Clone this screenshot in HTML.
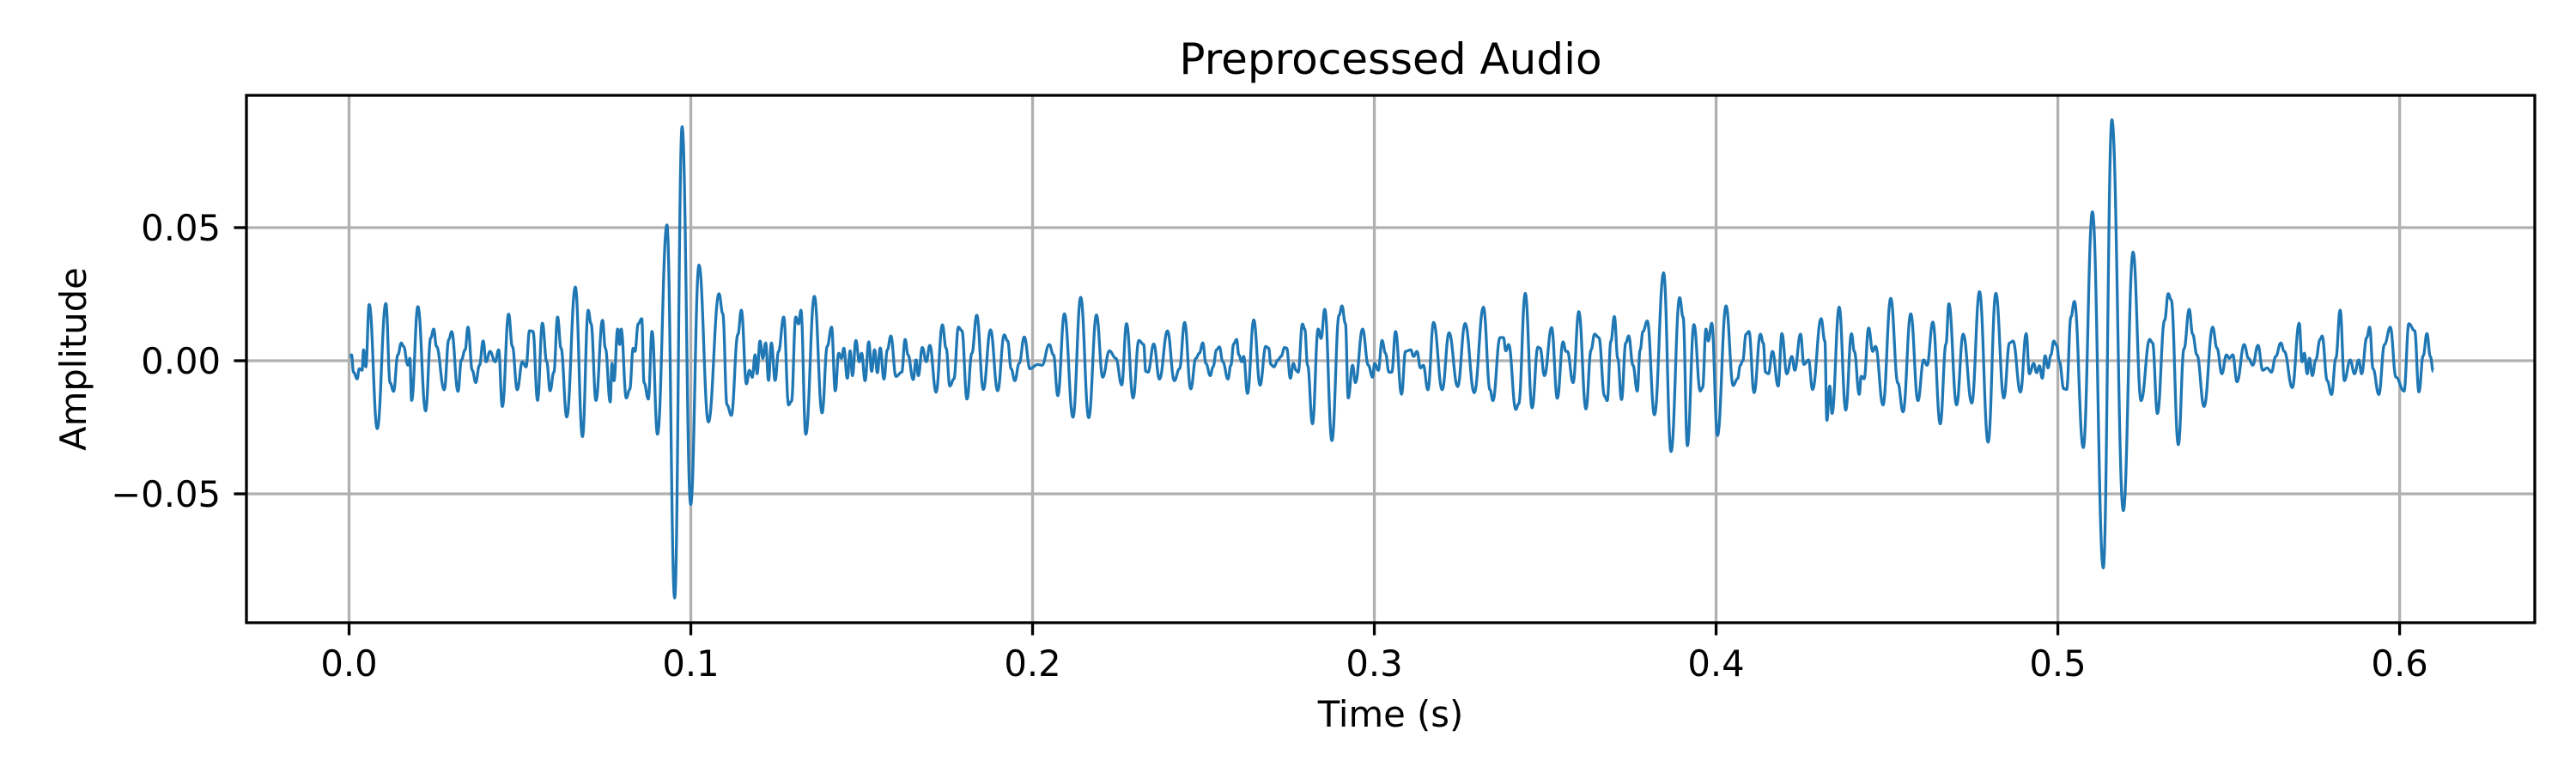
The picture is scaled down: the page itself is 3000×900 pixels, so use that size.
<!DOCTYPE html>
<html><head><meta charset="utf-8"><title>Preprocessed Audio</title>
<style>html,body{margin:0;padding:0;background:#fff;}svg{display:block;font-family:"DejaVu Sans","Liberation Sans",sans-serif;}</style>
</head><body>
<svg id="chart" xmlns="http://www.w3.org/2000/svg" width="3000" height="900" viewBox="0 0 3000 900">
<rect x="0" y="0" width="3000" height="900" fill="#ffffff"/>
<defs><clipPath id="plotclip"><rect x="287" y="111" width="2665" height="614"/></clipPath></defs>
<g id="grid"></g>
<g id="series" clip-path="url(#plotclip)"></g>
<rect x="287" y="111" width="2665" height="614" fill="none" stroke="#000" stroke-width="3.3"/>
<g id="ticks"></g>
<text x="1619.5" y="86" text-anchor="middle" font-size="50" fill="#000">Preprocessed Audio</text>
<text x="1619.5" y="846" text-anchor="middle" font-size="41.7" fill="#000">Time (s)</text>
<text x="0" y="0" transform="translate(100,418) rotate(-90)" text-anchor="middle" font-size="41.7" fill="#000">Amplitude</text>
</svg>
<script>
// time of each local extremum, milliseconds
const timesMs = [0.21,0.71,1.30,2.39,2.97,3.81,4.23,4.90,5.90,8.25,10.76,12.02,13.02,14.28,15.28,15.95,17.21,17.80,18.30,20.14,22.40,23.91,24.75,25.58,27.85,29.19,30.03,31.87,32.87,33.96,34.80,36.06,37.06,38.15,39.24,40.08,41.25,42.76,43.76,44.85,46.69,47.78,49.20,50.71,51.80,52.81,53.81,55.15,56.57,57.83,58.83,59.92,61.01,62.02,63.69,66.21,68.30,69.98,70.81,72.24,74.16,75.00,76.42,76.93,77.51,78.60,79.19,79.61,81.12,82.12,83.13,83.63,84.63,85.64,86.31,87.56,88.65,90.24,93.01,95.27,97.45,99.96,102.39,105.15,108.25,109.34,110.60,111.85,113.78,114.78,116.29,117.13,117.97,118.80,119.39,120.23,121.07,
121.90,122.74,123.58,124.67,125.67,127.18,128.61,129.45,130.70,131.54,132.21,133.64,136.15,138.41,139.92,141.18,142.27,143.27,144.11,144.78,145.79,146.62,147.29,148.30,149.31,149.98,150.98,152.07,152.91,153.75,154.59,155.42,156.51,157.52,158.52,160.03,161.71,162.71,163.55,165.06,165.90,166.57,167.74,168.91,169.92,171.76,173.61,174.70,175.79,176.96,178.30,179.31,180.81,182.24,183.66,185.59,187.69,189.78,191.71,192.71,193.72,194.81,196.07,197.57,199.25,201.51,202.77,204.87,206.12,207.38,209.31,211.82,214.08,216.43,218.69,220.53,222.46,224.39,226.07,227.49,229.42,231.09,232.52,233.11,233.78,235.45,237.13,239.47,241.48,242.99,244.49,
246.28,247.79,248.79,249.80,250.72,251.98,252.82,253.82,254.66,255.67,257.17,258.01,258.85,259.69,260.36,261.20,261.78,262.87,264.72,266.56,268.24,269.07,269.74,270.58,271.84,272.68,273.77,274.35,275.44,276.28,277.12,277.71,278.96,279.63,280.47,281.90,283.57,284.41,285.50,287.59,289.69,290.53,291.53,292.37,293.63,294.46,296.56,298.24,299.49,300.08,301.17,302.26,303.26,304.27,305.11,306.20,307.96,309.13,310.64,311.48,312.48,313.49,314.33,315.67,317.34,319.86,321.87,324.38,326.56,329.24,331.92,333.85,334.69,336.78,337.79,338.46,339.30,341.39,342.23,344.16,346.17,347.85,348.51,349.77,351.87,353.54,355.22,356.06,356.48,358.15,359.83,361.92,363.43,364.44,365.70,367.37,
368.13,369.22,370.23,371.23,372.32,373.58,374.42,375.68,376.93,377.77,378.61,379.87,381.96,384.64,386.82,389.33,390.34,391.60,393.52,395.37,396.04,397.04,397.71,398.72,400.40,402.91,405.01,406.26,407.10,407.77,408.78,409.61,411.12,412.97,413.80,414.47,415.31,416.49,418.16,419.25,420.68,422.18,423.02,424.70,425.70,427.04,428.22,430.73,431.82,432.41,433.25,433.92,436.01,437.94,439.61,440.45,441.88,442.46,443.30,444.64,445.82,446.65,448.83,451.10,453.19,454.70,456.96,459.06,460.73,461.74,463.41,465.59,467.27,468.11,470.37,472.30,474.81,477.07,479.59,481.85,484.20,485.87,486.88,489.06,490.74,
491.67,492.93,493.77,494.61,495.44,496.28,497.12,497.96,498.80,499.63,500.47,501.73,502.57,503.82,504.83,507.43,510.11,513.29,515.81,519.16,522.01,524.36,526.87,527.71,529.13,531.23,532.31,533.15,535.25,536.92,538.43,539.44,540.69,542.79,545.30,546.56,547.99,549.33,550.16,551.17,552.43,554.52,555.78,557.04,558.54,559.97,561.23,562.48,563.74,565.25,566.25,568.60,570.61,571.45,572.12,572.96,573.63,574.47,575.47,576.73,577.32,578.83,580.08,581.34,582.60,583.85,585.53,586.79,588.04,588.88,590.39,591.23,592.23,593.91,595.59,597.26,598.94,601.29,602.71,604.39,605.65,606.90,607.99,608.99,609.83];
// amplitude of each extremum, thousandths
const ampMilli = [1.6,2.2,-4.3,-6.8,-3.0,-3.6,4.1,-2.3,21.1,-25.5,21.5,-8.3,-11.5,2.2,6.7,5.4,-1.7,0.9,-14.9,20.3,-18.8,8.6,11.9,5.4,-10.9,8.0,10.9,-11.5,0.3,4.1,12.6,-3.6,-8.2,-1.7,7.4,-0.4,3.5,-0.4,4.1,-17.2,17.5,5.4,-10.9,-0.4,-2.3,11.3,11.0,-14.9,14.1,-0.4,-11.3,-4.3,16.4,4.7,-21.1,27.7,-28.5,19.0,13.9,-14.9,15.2,4.7,-15.5,-1.0,-7.5,11.9,6.1,11.9,-14.0,-10.8,4.7,3.5,13.9,15.8,-8.2,-14.4,11.0,-27.6,51.0,-89.1,87.9,-54.0,35.9,-23.0,25.2,17.7,-16.6,-20.5,9.9,19.0,-8.7,-3.6,-6.2,2.2,-4.9,7.4,0.9,
6.7,-7.4,6.7,-7.4,3.5,16.4,-16.6,-15.2,16.4,13.8,19.0,-27.6,24.2,-19.6,5.4,12.6,-11.3,2.8,0.9,4.7,-6.6,3.7,-5.6,7.6,-0.4,2.8,-7.5,7.1,-4.0,4.1,-4.5,4.8,-6.9,4.1,9.3,-5.9,-4.3,8.0,2.2,-7.1,0.3,-5.6,5.0,-0.4,5.8,-11.8,13.5,4.7,-9.5,-6.9,12.6,11.3,-14.4,2.8,17.1,-10.8,11.6,-11.3,9.7,7.4,-3.0,-7.5,-1.0,8.9,-3.0,-1.4,-1.7,6.1,2.2,-13.1,17.6,-21.2,23.8,-21.4,17.2,-6.2,3.7,0.9,-9.1,13.9,-14.0,7.6,6.1,-4.0,-4.3,6.3,-6.9,11.2,-7.5,-3.0,14.4,
-10.6,0.9,2.8,6.7,-1.0,-5.6,-2.3,4.1,5.2,-0.4,-6.9,-1.7,6.3,8.0,2.2,-0.4,1.6,-12.3,15.3,-9.2,5.4,4.7,-1.4,-2.3,0.3,1.6,5.0,4.7,-6.6,-1.0,-3.6,-4.3,13.8,11.9,-1.7,-23.7,11.9,8.4,19.3,-30.0,17.1,20.6,13.9,-14.0,-1.7,-8.2,11.9,-1.7,-6.2,-1.0,-3.6,7.6,2.8,-4.3,-4.3,11.0,-12.6,3.5,4.1,1.6,3.5,-2.7,-1.7,-10.9,14.4,-10.9,10.5,-9.7,14.0,-12.0,20.1,-10.9,-15.0,8.7,8.7,3.7,6.1,-18.3,-16.2,25.3,-17.7,5.1,4.7,-5.6,12.4,-14.1,7.1,3.5,3.5,-8.2,18.4,-18.1,4.1,10.0,8.7,-13.3,
-15.0,7.3,16.6,0.9,-14.6,6.7,9.3,-1.7,-11.4,4.1,11.0,14.9,-20.3,33.0,-34.1,23.7,16.4,-31.9,13.6,-11.4,-10.1,11.9,7.4,14.1,-28.1,20.6,-9.3,-6.8,-1.7,-0.1,10.0,11.0,-12.0,10.0,6.7,-4.3,-4.9,3.5,-9.5,10.2,-4.9,1.6,-3.6,10.0,-1.4,0.3,-10.8,15.8,7.4,-22.4,-9.5,-19.8,20.1,-18.5,10.1,3.5,-12.6,-5.8,-6.8,12.3,3.5,5.4,-16.6,23.4,-8.4,-19.2,17.6,-15.0,0.3,-1.7,14.5,-23.7,6.3,21.4,-16.6,10.0,-15.9,25.9,-30.6,25.3,-14.0,6.7,7.4,-11.8,10.2,
-4.9,-1.0,-4.5,-1.9,-6.6,1.9,-2.7,2.2,7.4,5.8,-0.4,-10.5,-10.8,16.4,22.3,-32.6,55.9,-77.8,90.5,-56.3,40.8,-15.0,8.0,6.7,-19.8,15.2,25.2,22.9,-31.5,4.5,19.3,10.0,2.2,-17.2,12.6,4.7,-4.9,2.2,0.9,2.2,-7.9,6.1,0.9,-1.7,5.8,-3.6,-2.7,-4.3,1.6,6.7,3.5,-10.1,14.1,-0.4,2.8,-4.9,0.9,-5.6,0.3,8.0,9.3,-7.5,-12.7,0.9,19.0,-7.5,0.3,-4.9,0.3,-4.9,8.7,12.6,-3.0,-12.7,6.1,12.6,-6.2,-11.4,13.9,11.3,-11.7,1.9,10.2,1.6,-4.0];
const xTicks = [0.0,0.1,0.2,0.3,0.4,0.5,0.6];
const xTickLabels = ["0.0","0.1","0.2","0.3","0.4","0.5","0.6"];
const yTicks = [-0.05,0.0,0.05];
const yTickLabels = ["\u22120.05","0.00","0.05"];

const NS = "http://www.w3.org/2000/svg";
const AX = {left:287, right:2952, top:111, bottom:725};
const XMIN = -0.03003, XMAX = 0.63955, YMIN = -0.09839, YMAX = 0.09968;
function xScale(t){ return AX.left + (t - XMIN) / (XMAX - XMIN) * (AX.right - AX.left); }
function yScale(v){ return AX.bottom - (v - YMIN) / (YMAX - YMIN) * (AX.bottom - AX.top); }

const grid = document.getElementById('grid');
const ticks = document.getElementById('ticks');
xTicks.forEach((t, i) => {
  const x = xScale(t);
  const gl = document.createElementNS(NS, 'line');
  gl.setAttribute('x1', x); gl.setAttribute('x2', x); gl.setAttribute('y1', AX.top); gl.setAttribute('y2', AX.bottom);
  gl.setAttribute('stroke', '#b0b0b0'); gl.setAttribute('stroke-width', '3.3');
  
  
  grid.appendChild(gl);
  const tk = document.createElementNS(NS, 'line');
  tk.setAttribute('x1', x); tk.setAttribute('x2', x); tk.setAttribute('y1', AX.bottom); tk.setAttribute('y2', AX.bottom + 14.6);
  tk.setAttribute('stroke', '#000'); tk.setAttribute('stroke-width', '3.3');
  
  
  ticks.appendChild(tk);
  const tx = document.createElementNS(NS, 'text');
  tx.setAttribute('x', x); tx.setAttribute('y', 787); tx.setAttribute('text-anchor', 'middle');
  tx.setAttribute('font-size', '41.7'); tx.setAttribute('fill', '#000');
  tx.textContent = xTickLabels[i];
  
  
  ticks.appendChild(tx);
});
yTicks.forEach((v, i) => {
  const y = yScale(v);
  const gl = document.createElementNS(NS, 'line');
  gl.setAttribute('x1', AX.left); gl.setAttribute('x2', AX.right); gl.setAttribute('y1', y); gl.setAttribute('y2', y);
  gl.setAttribute('stroke', '#b0b0b0'); gl.setAttribute('stroke-width', '3.3');
  
  
  grid.appendChild(gl);
  const tk = document.createElementNS(NS, 'line');
  tk.setAttribute('x1', AX.left - 14.6); tk.setAttribute('x2', AX.left); tk.setAttribute('y1', y); tk.setAttribute('y2', y);
  tk.setAttribute('stroke', '#000'); tk.setAttribute('stroke-width', '3.3');
  
  
  ticks.appendChild(tk);
  const tx = document.createElementNS(NS, 'text');
  tx.setAttribute('x', 257); tx.setAttribute('y', y + 15); tx.setAttribute('text-anchor', 'end');
  tx.setAttribute('font-size', '41.7'); tx.setAttribute('fill', '#000');
  tx.textContent = yTickLabels[i];
  
  
  ticks.appendChild(tx);
});

// waveform: smooth cubic segments between successive extrema
let d = '';
for (let i = 0; i < timesMs.length; i++) {
  const x = xScale(timesMs[i] / 1000), y = yScale(ampMilli[i] / 1000);
  if (i === 0) { d += 'M' + x.toFixed(2) + ' ' + y.toFixed(2); continue; }
  const px = xScale(timesMs[i-1] / 1000), py = yScale(ampMilli[i-1] / 1000);
  const dx = (x - px) * 0.42;
  d += ' C' + (px + dx).toFixed(2) + ' ' + py.toFixed(2) + ' ' + (x - dx).toFixed(2) + ' ' + y.toFixed(2) + ' ' + x.toFixed(2) + ' ' + y.toFixed(2);
}
const path = document.createElementNS(NS, 'path');
path.setAttribute('d', d);
path.setAttribute('fill', 'none'); path.setAttribute('stroke', '#1f77b4');
path.setAttribute('stroke-width', '3.3'); path.setAttribute('stroke-linejoin', 'round');


document.getElementById('series').appendChild(path);
</script>
</body></html>
